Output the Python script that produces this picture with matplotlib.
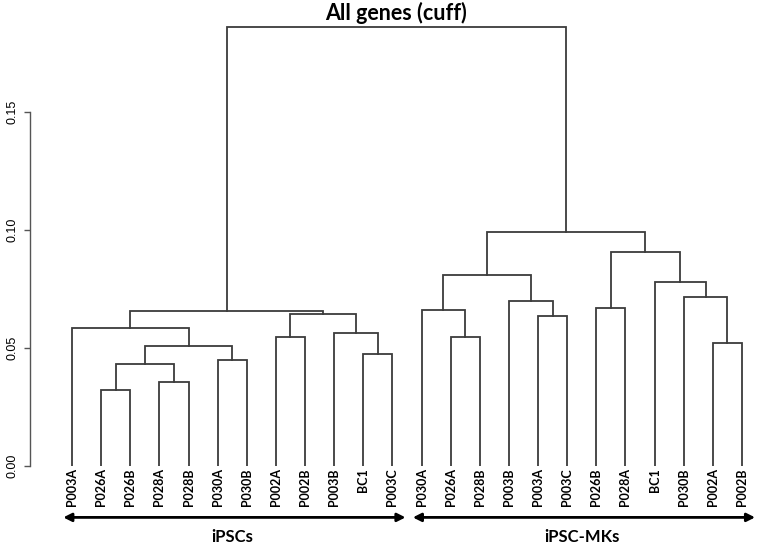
import numpy as np
import matplotlib.pyplot as plt

# leaves in display order
leaves = ['P003A', 'P026A', 'P026B', 'P028A', 'P028B', 'P030A', 'P030B',
          'P002A', 'P002B', 'P003B', 'BC1', 'P003C',
          'P030A', 'P026A', 'P028B', 'P003B', 'P003A', 'P003C',
          'P026B', 'P028A', 'BC1', 'P030B', 'P002A', 'P002B']

# merges in R hclust style: negative = leaf (1-based), positive = earlier merge
merge_left = [-2, -4, -6, -11, -23, 1, 6, -8, -14, -10, -1, -17,
              8, 11, -13, -19, -16, -22, -21, 15, 16, 20, 14]
merge_right = [-3, -5, -7, -12, -24, 2, 3, -9, -15, 4, 7, -18,
               10, 13, 9, -20, 12, 5, 18, 17, 19, 21, 22]
merge_height = [0.0321, 0.0356, 0.0447, 0.0475, 0.0519, 0.0430, 0.0509,
                0.0545, 0.0547, 0.0561, 0.0585, 0.0635, 0.0642, 0.0656,
                0.0660, 0.0669, 0.0698, 0.0717, 0.0778, 0.0809, 0.0908,
                0.0992, 0.1860]

groups = ['iPSCs', 'iPSC-MKs']
group_first = [0, 12]
group_last = [11, 23]

yticks = [0.0, 0.05, 0.10, 0.15]

fig = plt.figure(figsize=(7.65, 5.44), dpi=100)
ax = fig.add_axes([30/765, 1 - 465.7/544, 735/765, 445.7/544])

line_col = '#3c3c3c'
node_x = {}
node_h = {}


def pos(ref):
    if ref < 0:
        return float(-ref - 1), 0.0
    return node_x[ref], node_h[ref]


for k in range(len(merge_height)):
    xl, hl = pos(merge_left[k])
    xr, hr = pos(merge_right[k])
    h = merge_height[k]
    ax.plot([xl, xl, xr, xr], [hl, h, h, hr], color=line_col, lw=1.3,
            solid_joinstyle='miter')
    node_x[k + 1] = (xl + xr) / 2
    node_h[k + 1] = h

ax.set_xlim((30 - 72) / 29.13, (765 - 72) / 29.13)
ax.set_ylim(0, 445.7 / 2358)

for s in ['top', 'right', 'bottom']:
    ax.spines[s].set_visible(False)
ax.spines['left'].set_bounds(0, 0.15)
ax.spines['left'].set_color('#555555')
ax.spines['left'].set_linewidth(1.0)

ax.set_yticks(yticks)
ax.set_yticklabels(['%.2f' % v for v in yticks], rotation=90, va='center',
                   family='Liberation Sans', fontsize=9)
ax.tick_params(axis='y', length=4, width=1.0, color='#555555', pad=4)

ax.set_xticks(range(len(leaves)))
ax.set_xticklabels(leaves, rotation=90, family='Lato', fontweight='bold',
                   fontsize=9)
ax.tick_params(axis='x', length=0, pad=2)

for g, a, b in zip(groups, group_first, group_last):
    ax.annotate('', xy=(a - 0.3, -0.116), xytext=(b + 0.45, -0.116),
                xycoords=('data', 'axes fraction'),
                textcoords=('data', 'axes fraction'),
                arrowprops=dict(arrowstyle='<|-|>', color='black', lw=2,
                                mutation_scale=12, shrinkA=0, shrinkB=0),
                annotation_clip=False)
    ax.text((a + b) / 2, -0.160, g, transform=ax.get_xaxis_transform(),
            ha='center', va='center', family='Lato', fontweight='bold',
            fontsize=12)

fig.text(396 / 765, 1 - 13 / 544, 'All genes (cuff)', ha='center',
         va='center', family='Lato', fontweight='bold', fontsize=15.5)

fig.savefig('out.png', dpi=100)
